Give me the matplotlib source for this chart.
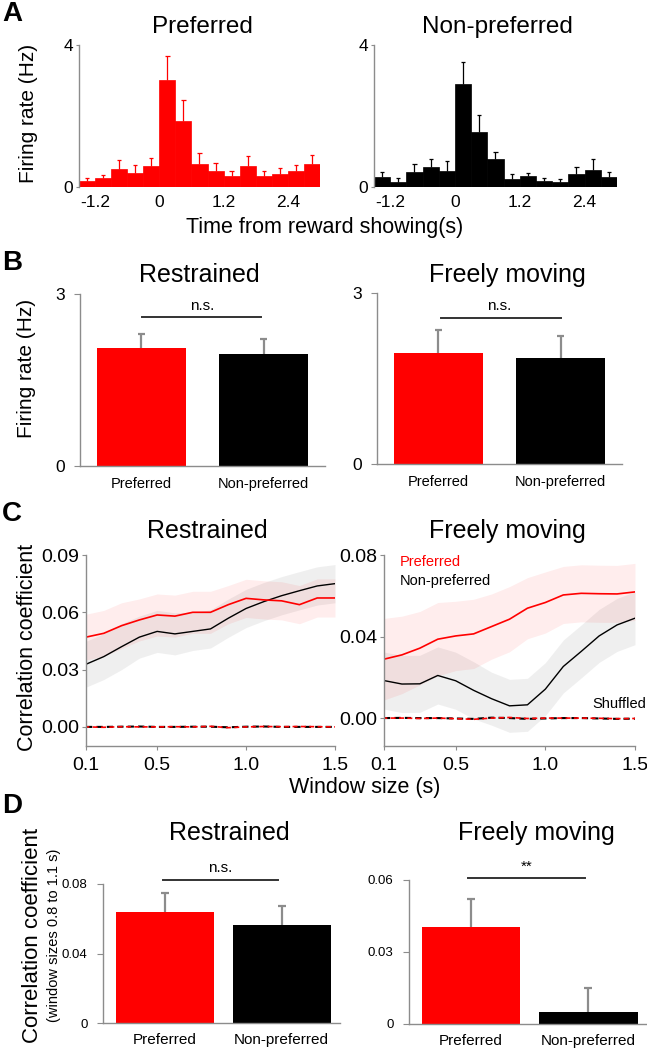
import numpy as np
import matplotlib
matplotlib.use("Agg")
import matplotlib.pyplot as plt

plt.rcParams["font.family"] = ["Liberation Sans", "DejaVu Sans"]

# ---------------- DATA ----------------
# A: PSTH, 0.3 s bins from -1.5 to 3.0 s
bin_left = [-1.5, -1.2, -0.9, -0.6, -0.3, 0.0, 0.3, 0.6, 0.9, 1.2, 1.5, 1.8, 2.1, 2.4, 2.7]
psth_pref = [0.16, 0.24, 0.51, 0.40, 0.60, 3.02, 1.86, 0.65, 0.45, 0.32, 0.58, 0.32, 0.36, 0.45, 0.64]
psth_pref_top = [0.25, 0.35, 0.77, 0.63, 0.82, 3.68, 2.45, 0.95, 0.68, 0.45, 0.88, 0.44, 0.53, 0.63, 0.90]
psth_nonpref = [0.28, 0.13, 0.42, 0.57, 0.45, 2.90, 1.54, 0.79, 0.22, 0.31, 0.17, 0.13, 0.36, 0.49, 0.28]
psth_nonpref_top = [0.43, 0.24, 0.66, 0.79, 0.73, 3.52, 2.03, 0.98, 0.38, 0.39, 0.24, 0.23, 0.57, 0.79, 0.42]

# B: mean firing rate
bar_labels = ["Preferred", "Non-preferred"]
rate_restrained = [2.05, 1.95]
rate_restrained_err = [0.26, 0.26]
rate_free = [1.95, 1.86]
rate_free_err = [0.40, 0.39]

# C: correlation vs window size
window = [0.1, 0.2, 0.3, 0.4, 0.5, 0.6, 0.7, 0.8, 0.9, 1.0, 1.1, 1.2, 1.3, 1.4, 1.5]
r_pref_restr = [0.047, 0.049, 0.053, 0.056, 0.0586, 0.058, 0.060, 0.060, 0.064, 0.0673,
                0.0665, 0.066, 0.064, 0.0675, 0.0675]
r_pref_restr_sem = [0.012, 0.012, 0.012, 0.011, 0.011, 0.011, 0.011, 0.011, 0.010, 0.010,
                    0.010, 0.010, 0.010, 0.010, 0.010]
r_non_restr = [0.0328, 0.0368, 0.042, 0.047, 0.050, 0.0487, 0.050, 0.0513, 0.0569, 0.062,
               0.0656, 0.0687, 0.0713, 0.0738, 0.075]
r_non_restr_sem = [0.012, 0.012, 0.012, 0.011, 0.011, 0.011, 0.010, 0.010, 0.010, 0.010,
                   0.010, 0.010, 0.010, 0.010, 0.010]
shuf_pref_restr = [0.0, -0.0002, 0.0001, 0.0, 0.0, 0.0001, 0.0, 0.0003, -0.0004, 0.0,
                   0.0002, 0.0001, 0.0002, 0.0001, 0.0]
shuf_non_restr = [0.0, 0.0, 0.0001, 0.0002, 0.0, 0.0, 0.0001, 0.0001, -0.0002, 0.0001,
                  0.0002, 0.0, 0.0, 0.0, 0.0]

r_pref_free = [0.0289, 0.031, 0.0343, 0.0387, 0.0403, 0.0413, 0.0449, 0.0485, 0.0539, 0.0567,
               0.0604, 0.0612, 0.061, 0.0609, 0.0619]
r_pref_free_sem = [0.020, 0.019, 0.018, 0.018, 0.017, 0.017, 0.016, 0.016, 0.015, 0.015,
                   0.014, 0.014, 0.014, 0.014, 0.014]
r_non_free = [0.0184, 0.0167, 0.0168, 0.0209, 0.0183, 0.0136, 0.0095, 0.006, 0.0065, 0.0142,
              0.0253, 0.0327, 0.0403, 0.0457, 0.049]
r_non_free_sem = [0.014, 0.014, 0.014, 0.014, 0.014, 0.014, 0.013, 0.013, 0.013, 0.013,
                  0.013, 0.013, 0.013, 0.013, 0.013]
shuf_pref_free = [0.0, 0.0, -0.0002, 0.0, -0.0003, -0.0006, 0.0, 0.0003, -0.0002, 0.0,
                  0.0, 0.0, -0.0001, -0.0003, -0.0002]
shuf_non_free = [0.0, 0.0001, 0.0, 0.0, -0.0002, -0.0004, 0.0002, 0.0, -0.0004, -0.0002,
                 0.0, 0.0, -0.0002, -0.0004, -0.0003]

# D: mean correlation (window sizes 0.8 to 1.1 s)
corr_restrained = [0.064, 0.0566]
corr_restrained_err = [0.0108, 0.0105]
corr_free = [0.0406, 0.0049]
corr_free_err = [0.0115, 0.0103]

# ---------------- FIGURE ----------------
W, H = 647, 1050
fig = plt.figure(figsize=(W / 100, H / 100), dpi=100)
RED = "#ff0000"
GRAY = "#8c8c8c"
SIG = "#333333"


def add_ax(x0, ytop, x1, ybot):
    return fig.add_axes([x0 / W, 1 - ybot / H, (x1 - x0) / W, (ybot - ytop) / H])


def ftext(x, y, s, **kw):
    fig.text(x / W, 1 - y / H, s, **kw)


def style(ax):
    for side in ["top", "right"]:
        ax.spines[side].set_visible(False)
    for side in ["left", "bottom"]:
        ax.spines[side].set_color(GRAY)
        ax.spines[side].set_linewidth(1.0)
    ax.tick_params(colors=GRAY, labelcolor="black")


def upper_err(ax, x, y, top, color, lw, capw):
    # vertical line from bar top up to error, with a cap only on top
    ax.vlines(x, y, top, color=color, lw=lw)
    ax.hlines(top, np.array(x) - capw, np.array(x) + capw, color=color, lw=lw)


# ---- A ----
ftext(2, 21, "A", fontsize=20, fontweight="bold")
for x0, x1, vals, tops, col, title, tcx in [
    (79, 320, psth_pref, psth_pref_top, RED, "Preferred", 202),
    (374, 617, psth_nonpref, psth_nonpref_top, "black", "Non-preferred", 497),
]:
    ax = add_ax(x0, 45, x1, 187)
    style(ax)
    ax.spines["bottom"].set_visible(False)
    ax.bar(bin_left, vals, width=0.3, align="edge", color=col, edgecolor=col, linewidth=0.5)
    centers = np.array(bin_left) + 0.15
    upper_err(ax, centers, vals, tops, col, 0.9, 0.04)
    ax.set_xlim(-1.5, 3.0)
    ax.set_ylim(0, 4)
    ax.set_yticks([0, 4])
    ax.set_yticklabels(["0", "4"], fontsize=12.5)
    ax.set_xticks([-1.2, 0, 1.2, 2.4])
    ax.set_xticklabels(["-1.2", "0", "1.2", "2.4"], fontsize=12.5)
    ax.tick_params(axis="x", length=0, pad=6)
    ax.tick_params(axis="y", length=2, pad=2)
    ftext(tcx, 33, title, fontsize=17.5, ha="center", va="baseline")
ftext(28, 113, "Firing rate (Hz)", fontsize=15, rotation=90, ha="center", va="center")
ftext(325, 233, "Time from reward showing(s)", fontsize=15.5, ha="center", va="baseline")

# ---- B ----
ftext(2, 270, "B", fontsize=20, fontweight="bold")
for x0, x1, ytop, ybot, vals, errs, title, tcx, line, nsy in [
    (80, 325, 294, 466, rate_restrained, rate_restrained_err, "Restrained", 199, (0.01, 0.98, 2.6), 2.72),
    (377, 622, 293, 464, rate_free, rate_free_err, "Freely moving", 507, (0.02, 1.0, 2.57), 2.70),
]:
    ax = add_ax(x0, ytop, x1, ybot)
    style(ax)
    ax.bar([0, 1], vals, width=0.73, color=[RED, "black"])
    upper_err(ax, [0, 1], vals, np.array(vals) + np.array(errs), GRAY, 1.6, 0.03)
    ax.set_xlim(-0.5, 1.5)
    ax.set_ylim(0, 3)
    ax.set_yticks([0, 3])
    ax.set_yticklabels(["0", "3"], fontsize=12.5)
    ax.set_xticks([0, 1])
    ax.set_xticklabels(bar_labels, fontsize=10.5)
    ax.tick_params(axis="x", length=0, pad=8)
    ax.tick_params(axis="y", length=4, pad=7)
    ax.plot(line[:2], [line[2], line[2]], color=SIG, lw=1.4, clip_on=False)
    ax.text(0.5, nsy, "n.s.", fontsize=11, ha="center", va="baseline")
    ftext(tcx, 282, title, fontsize=18, ha="center", va="baseline")
ftext(27, 368, "Firing rate (Hz)", fontsize=15, rotation=90, ha="center", va="center")

# ---- C ----
ftext(2, 521, "C", fontsize=20, fontweight="bold")
panels_c = [
    (86, 335, 0.09, -0.01, [0, 0.03, 0.06, 0.09], ["0.00", "0.03", "0.06", "0.09"],
     r_pref_restr, r_pref_restr_sem, r_non_restr, r_non_restr_sem,
     shuf_pref_restr, shuf_non_restr, "Restrained", 207),
    (384, 635, 0.08, -0.0137, [0, 0.04, 0.08], ["0.00", "0.04", "0.08"],
     r_pref_free, r_pref_free_sem, r_non_free, r_non_free_sem,
     shuf_pref_free, shuf_non_free, "Freely moving", 507),
]
axes_c = []
for (x0, x1, ymax, ymin, yt, ytl, rp, rps, rn, rns, sp, sn, title, tcx) in panels_c:
    ax = add_ax(x0, 555, x1, 746)
    style(ax)
    rp, rps, rn, rns = map(np.array, (rp, rps, rn, rns))
    ax.fill_between(window, rn - rns, rn + rns, color="#a0a0a0", alpha=0.16, lw=0)
    ax.fill_between(window, rp - rps, rp + rps, color=RED, alpha=0.07, lw=0)
    ax.plot(window, rn, color="black", lw=1.0)
    ax.plot(window, rp, color=RED, lw=1.2)
    ax.plot(window, sn, color="black", lw=1.5, ls=(0, (3, 2)))
    ax.plot(window, sp, color=RED, lw=1.2, ls=(1, (3, 2)))
    ax.set_xlim(0.1, 1.5)
    ax.set_ylim(ymin, ymax)
    ax.set_yticks(yt)
    ax.set_yticklabels(ytl, fontsize=14)
    ax.set_xticks([0.1, 0.5, 1.0, 1.5])
    ax.set_xticklabels(["0.1", "0.5", "1.0", "1.5"], fontsize=14)
    ax.tick_params(axis="x", length=3, pad=5)
    ax.tick_params(axis="y", length=3, pad=2)
    ftext(tcx, 538, title, fontsize=18, ha="center", va="baseline")
    axes_c.append(ax)
axc = axes_c[1]
axc.text(0.19, 0.0745, "Preferred", color=RED, fontsize=10.5, va="baseline")
axc.text(0.19, 0.0655, "Non-preferred", color="black", fontsize=10.5, va="baseline")
axc.text(1.26, 0.0048, "Shuffled", color="black", fontsize=10.5, va="baseline", clip_on=False)
ftext(28, 647, "Correlation coefficient", fontsize=15.5, rotation=90, ha="center", va="center")
ftext(365, 793, "Window size (s)", fontsize=15.5, ha="center", va="baseline")

# ---- D ----
ftext(2, 813, "D", fontsize=20, fontweight="bold")
for x0, x1, ytop, ybot, ymax, yt, ytl, vals, errs, title, tcx, line, lab, laby in [
    (103, 340, 884, 1023, 0.08, [0, 0.04, 0.08], ["0", "0.04", "0.08"],
     corr_restrained, corr_restrained_err, "Restrained", 229, (-0.02, 0.97, 0.0821), "n.s.", 0.087),
    (409, 647, 880, 1024, 0.06, [0, 0.03, 0.06], ["0", "0.03", "0.06"],
     corr_free, corr_free_err, "Freely moving", 536, (-0.03, 0.97, 0.061), "**", 0.0637),
]:
    ax = add_ax(x0, ytop, x1, ybot)
    style(ax)
    ax.bar([0, 1], vals, width=0.84, color=[RED, "black"])
    upper_err(ax, [0, 1], vals, np.array(vals) + np.array(errs), GRAY, 1.6, 0.035)
    ax.set_xlim(-0.53, 1.5)
    ax.set_ylim(0, ymax)
    ax.set_yticks(yt)
    ax.set_yticklabels(ytl, fontsize=9.5)
    ax.set_xticks([0, 1])
    ax.set_xticklabels(bar_labels, fontsize=11)
    ax.tick_params(axis="x", length=0, pad=7)
    ax.tick_params(axis="y", length=4, pad=7)
    ax.plot(line[:2], [line[2], line[2]], color=SIG, lw=1.4, clip_on=False)
    ax.text(0.47, laby, lab, fontsize=11, ha="center", va="baseline")
    ftext(tcx, 840, title, fontsize=18, ha="center", va="baseline")
ftext(33, 935, "Correlation coefficient", fontsize=16, rotation=90, ha="center", va="center")
ftext(54, 935, "(window sizes 0.8 to 1.1 s)", fontsize=10.5, rotation=90, ha="center", va="center")

fig.savefig("out.png", dpi=100)
